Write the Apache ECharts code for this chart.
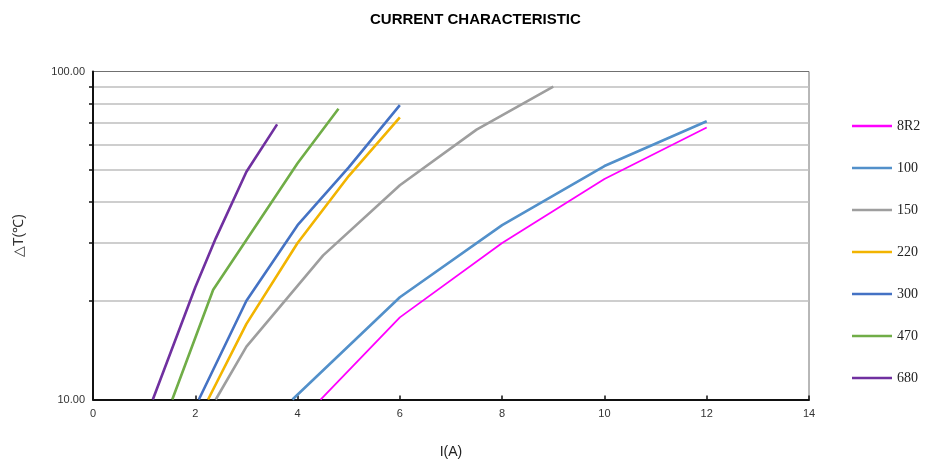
<!DOCTYPE html>
<html>
<head>
<meta charset="utf-8">
<script src="https://cdn.jsdelivr.net/npm/echarts@6/dist/echarts.min.js"></script>
<style>html,body{margin:0;padding:0;background:#fff}#c{width:925px;height:465px}</style>
</head>
<body>
<div id="c"></div>
<script>
var seriesNames = ['8R2', '100', '150', '220', '300', '470', '680'];
var seriesColors = ['#FF00FF', '#5290CA', '#9E9E9E', '#F2B400', '#4472C4', '#70AD47', '#7030A0'];

var x8R2 = [4.45, 6, 8, 10, 12];
var y8R2 = [10, 17.8, 30, 47, 67.5];
var x100 = [3.9, 6, 8, 10, 12];
var y100 = [10, 20.5, 34, 51.5, 70.5];
var x150 = [2.4, 3, 4.5, 6, 7.5, 9];
var y150 = [10, 14.5, 27.5, 45, 66.5, 90];
var x220 = [2.25, 3, 4, 5, 6];
var y220 = [10, 17, 30, 48, 72.5];
var x300 = [2.07, 3, 4, 5, 6];
var y300 = [10, 20, 34, 51, 79];
var x470 = [1.55, 2.35, 4, 4.8];
var y470 = [10, 21.6, 52.5, 77];
var x680 = [1.17, 2, 2.4, 3, 3.6];
var y680 = [10, 22, 31, 49.5, 69];

var xTicks = [0, 2, 4, 6, 8, 10, 12, 14];
var yTickLabels = ['10.00', '100.00'];

var xs = [x8R2, x100, x150, x220, x300, x470, x680];
var ys = [y8R2, y100, y150, y220, y300, y470, y680];
var widths = [1.8, 2.6, 2.6, 2.6, 2.6, 2.6, 2.6];

function pairs(a, b) { return a.map(function (v, i) { return [v, b[i]]; }); }

var series = seriesNames.map(function (n, i) {
  return {
    name: n, type: 'line', data: pairs(xs[i], ys[i]),
    symbol: 'none', smooth: false,
    lineStyle: { color: seriesColors[i], width: widths[i] },
    itemStyle: { color: seriesColors[i] }
  };
});

var chart = echarts.init(document.getElementById('c'));
chart.setOption({
  animation: false,
  backgroundColor: '#fff',
  title: {
    text: 'CURRENT CHARACTERISTIC', left: 365, top: 7,
    textStyle: { fontFamily: 'Liberation Sans, Arial', fontWeight: 'bold', fontSize: 15, color: '#000' }
  },
  legend: {
    orient: 'vertical', left: 852, top: 119, padding: 0,
    itemWidth: 40, itemHeight: 2.5, itemGap: 28, icon: 'rect',
    data: seriesNames,
    textStyle: { fontFamily: 'Liberation Serif, serif', fontSize: 14, color: '#222', padding: [0, 0, 0, 0] }
  },
  grid: {
    left: 93, right: 116, top: 71.5, bottom: 65.5,
    show: true, borderColor: '#707070', borderWidth: 1
  },
  xAxis: {
    type: 'value', min: 0, max: 14, interval: 2,
    name: 'I(A)', nameLocation: 'middle', nameGap: 46,
    nameTextStyle: { fontFamily: 'Liberation Sans, Arial', fontSize: 14, color: '#222' },
    axisLine: { show: true, lineStyle: { color: '#111', width: 2 } },
    axisTick: { show: true, inside: true, length: 4, lineStyle: { color: '#111', width: 1.5 } },
    axisLabel: {
      fontFamily: 'Liberation Sans, Arial', fontSize: 11, color: '#333', margin: 9,
      formatter: function (v) { return xTicks.indexOf(v) >= 0 ? String(v) : ''; }
    },
    splitLine: { show: false }
  },
  yAxis: {
    type: 'log', logBase: 10, min: 10, max: 100,
    name: '△T(℃)', nameLocation: 'middle', nameGap: 67, nameRotate: 90,
    nameTextStyle: { fontFamily: 'Liberation Sans, Arial', fontSize: 14, color: '#333' },
    axisLine: { show: true, lineStyle: { color: '#111', width: 2 } },
    axisTick: { show: false },
    minorTick: { show: true, splitNumber: 9, length: 4, lineStyle: { color: '#111', width: 1.5 } },
    minorSplitLine: { show: true, lineStyle: { color: '#BFBFBF', width: 1.5 } },
    splitLine: { show: false },
    axisLabel: {
      fontFamily: 'Liberation Sans, Arial', fontSize: 11, color: '#333', margin: 8,
      formatter: function (v) { return Math.abs(v - 10) < 1e-6 ? yTickLabels[0] : (Math.abs(v - 100) < 1e-6 ? yTickLabels[1] : ''); }
    }
  },
  series: series
});
</script>
</body>
</html>
